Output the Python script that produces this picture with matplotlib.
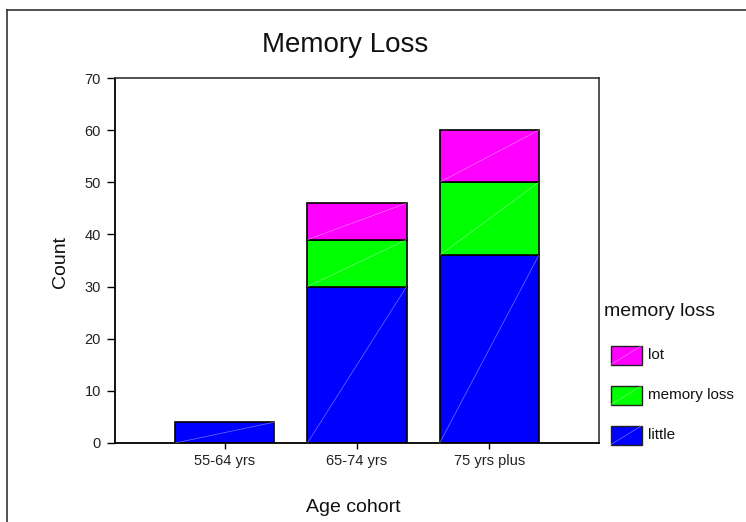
import matplotlib
matplotlib.use("Agg")
import matplotlib.pyplot as plt
from matplotlib.patches import Rectangle
from matplotlib.lines import Line2D
import numpy as np

plt.rcParams['font.family'] = ['Liberation Sans', 'DejaVu Sans']

# Data
categories = ["55-64 yrs", "65-74 yrs", "75 yrs plus"]
little = [4, 30, 36]
memory_loss = [0, 9, 14]
lot = [0, 7, 10]
series_names = ["little", "memory loss", "lot"]
series_colors = ["#0000FF", "#00FF00", "#FF00FF"]
yticks = [0, 10, 20, 30, 40, 50, 60, 70]

W, H = 746, 522
fig = plt.figure(figsize=(W / 100, H / 100), dpi=100)
ax = fig.add_axes([115 / W, 1 - 443 / H, (599 - 115) / W, (443 - 78) / H])

x = np.arange(len(categories))
width = 0.75
bottom = np.zeros(len(categories))
for vals, color in zip([little, memory_loss, lot], series_colors):
    vals = np.array(vals, dtype=float)
    for xi, b, v in zip(x, bottom, vals):
        if v <= 0:
            continue
        ax.bar(xi, v, width=width, bottom=b, color=color, edgecolor="black",
               linewidth=1.2, zorder=2)
        # faint diagonal stroke across each segment
        ax.plot([xi - width / 2, xi + width / 2], [b, b + v], color="white",
                lw=0.5, alpha=0.45, zorder=3)
    bottom += vals

ax.set_xlim(-0.83, 2.83)
ax.set_ylim(0, 70)
ax.set_yticks(yticks)
ax.set_xticks(x)
ax.set_xticklabels(categories, fontsize=10.5, color="#222222")
ax.tick_params(axis="y", labelsize=10.5, length=6, width=1, direction="out",
               colors="black", labelcolor="#222222", pad=4)
ax.tick_params(axis="x", length=4, width=1, direction="out", pad=4)
for side in ["left", "bottom"]:
    ax.spines[side].set_linewidth(1.3)
    ax.spines[side].set_color("black")
for side in ["top", "right"]:
    ax.spines[side].set_linewidth(1.2)
    ax.spines[side].set_color("#333333")

# Titles and axis labels
fig.text(345 / W, 1 - 45 / H, "Memory Loss", fontsize=20, ha="center",
         va="center", color="#111111")
fig.text(60 / W, 1 - 262 / H, "Count", fontsize=14, rotation=90,
         ha="center", va="center", color="#111111")
fig.text(353 / W, 1 - 508 / H, "Age cohort", fontsize=14, ha="center",
         va="center", color="#111111")

# Legend (top entry is the last series)
fig.text(604 / W, 1 - 311 / H, "memory loss", fontsize=14, ha="left",
         va="center", color="#111111")
row_y = [435, 395, 355]
for name, color, yc in zip(series_names, series_colors, row_y):
    x0, x1 = 611, 642
    y0, y1 = yc - 9.5, yc + 9.5
    rect = Rectangle((x0 / W, 1 - y1 / H), (x1 - x0) / W, (y1 - y0) / H,
                     transform=fig.transFigure, facecolor=color,
                     edgecolor="#222222", linewidth=1.0)
    fig.add_artist(rect)
    fig.add_artist(Line2D([x0 / W, x1 / W], [1 - y1 / H, 1 - y0 / H],
                          transform=fig.transFigure, color="white",
                          lw=0.5, alpha=0.45))
    fig.text(648 / W, 1 - yc / H, name, fontsize=11, ha="left",
             va="center", color="#111111")

# Outer frame (left and top edges)
fig.add_artist(Line2D([7 / W, 7 / W], [0, 1 - 10 / H],
                      transform=fig.transFigure, color="#333333", lw=1.2))
fig.add_artist(Line2D([7 / W, 1], [1 - 10 / H, 1 - 10 / H],
                      transform=fig.transFigure, color="#333333", lw=1.2))

fig.savefig("out.png", dpi=100)
